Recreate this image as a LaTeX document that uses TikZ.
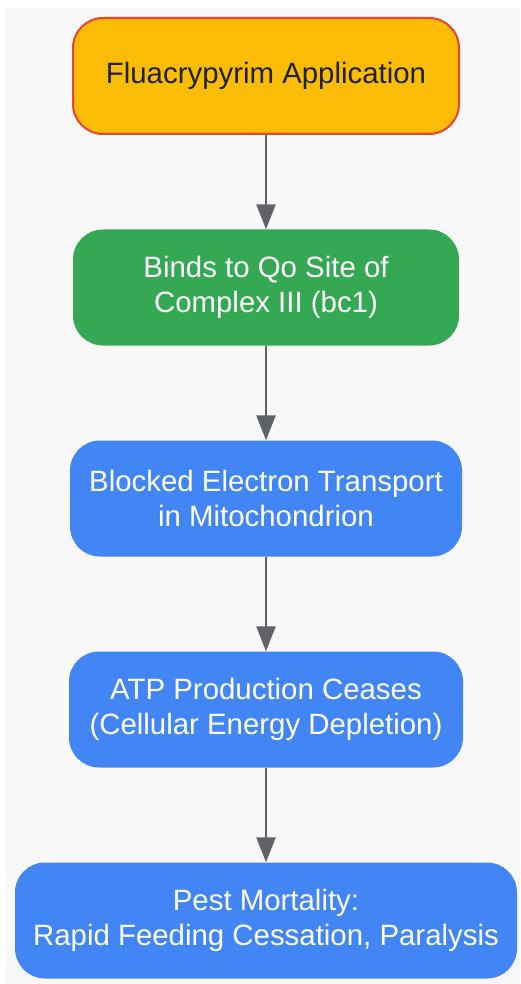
\documentclass[tikz,border=0pt]{standalone}
\usepackage{fontspec}
\setmainfont{Liberation Sans}
\usepackage{tikz}
\usepackage{xcolor}
\usetikzlibrary{arrows.meta}

\definecolor{bggray}{HTML}{F8F8F8}
\definecolor{appyellow}{HTML}{FBBC05}
\definecolor{appred}{HTML}{EA4335}
\definecolor{bindgreen}{HTML}{34A853}
\definecolor{stepblue}{HTML}{4285F4}
\definecolor{arrowgray}{HTML}{5F6368}
\definecolor{darktext}{HTML}{202124}

\begin{document}
\begin{tikzpicture}[x=1pt, y=-1pt,
	box/.style={rounded corners=30pt, minimum height=116pt, inner sep=0pt, align=center, text=white, font=\fontsize{29.4}{35}\selectfont},
	link/.style={-{Triangle[length=25pt, width=19pt]}, line width=2.6pt, draw=arrowgray}]
	\useasboundingbox (0,0) rectangle (520,984);
	\fill[bggray] (6,8) rectangle (520,984);
	\node[box, minimum width=386pt, fill=appyellow, draw=appred, line width=2pt, text=darktext] (apply) at (266,76) {Fluacrypyrim Application};
	\node[box, minimum width=386pt, fill=bindgreen] (binds) at (266,287.5) {Binds to Qo Site of\\Complex III (bc1)};
	\node[box, minimum width=392pt, fill=stepblue] (block) at (266,498.5) {Blocked Electron Transport\\in Mitochondrion};
	\node[box, minimum width=394pt, fill=stepblue] (atp) at (266,709.5) {ATP Production Ceases\\(Cellular Energy Depletion)};
	\node[box, minimum width=502pt, fill=stepblue] (pest) at (266,920.5) {Pest Mortality:\\Rapid Feeding Cessation, Paralysis};
	\draw[link] (apply) -- (binds);
	\draw[link] (binds) -- (block);
	\draw[link] (block) -- (atp);
	\draw[link] (atp) -- (pest);
\end{tikzpicture}
\end{document}
